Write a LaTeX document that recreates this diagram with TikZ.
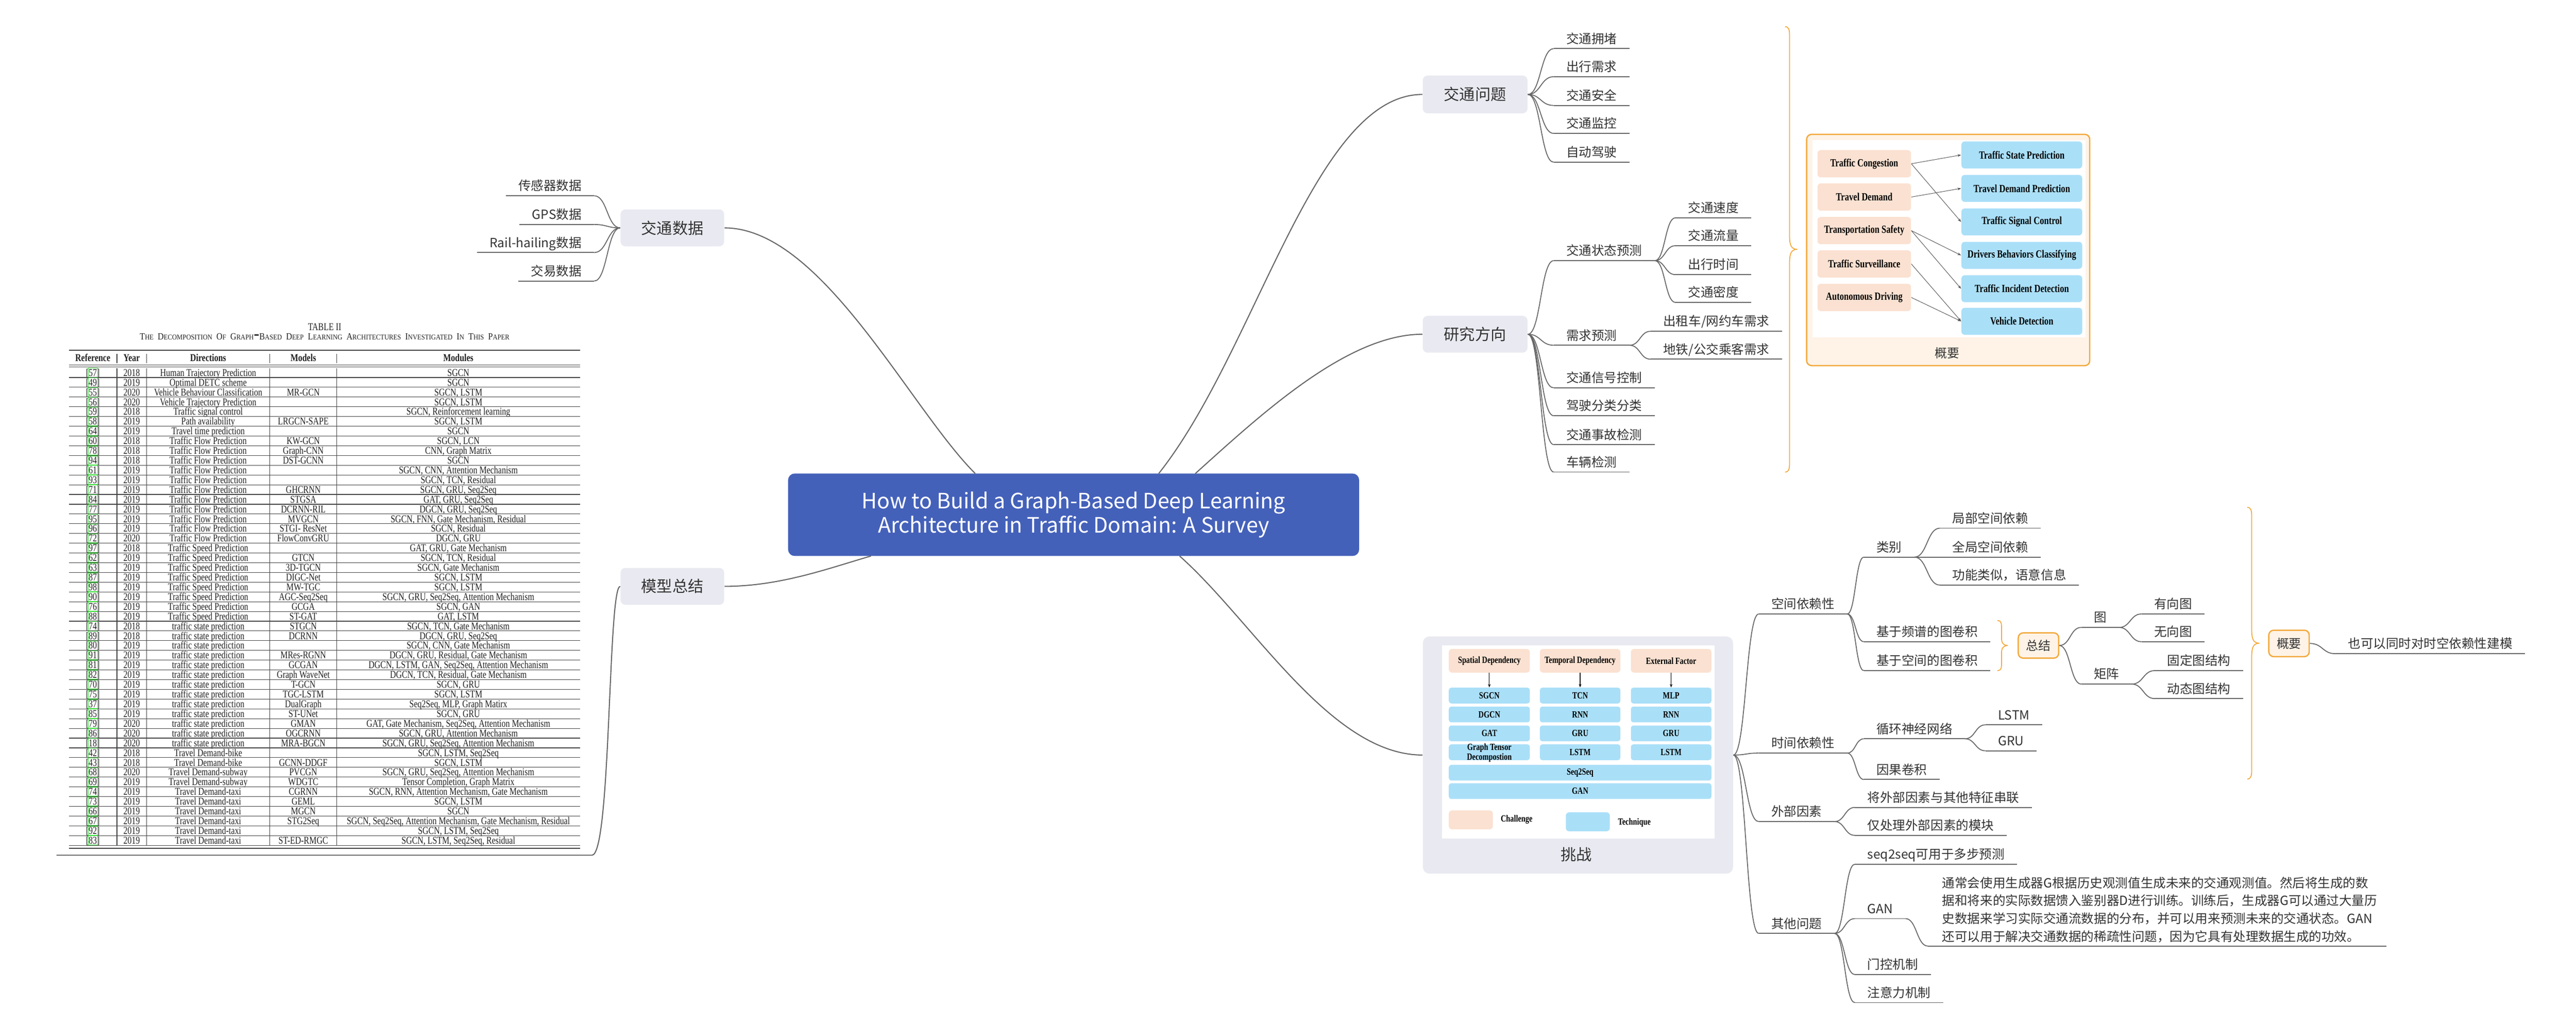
\documentclass[tikz,border=0pt]{standalone}
\usepackage{fontspec}
\usepackage{graphicx}
\setmainfont{Liberation Serif}
\newfontfamily\cjk{Noto Sans CJK SC}
\usetikzlibrary{calc,arrows.meta}
\definecolor{lnc}{HTML}{666666}
\definecolor{txc}{HTML}{333333}
\definecolor{boxg}{HTML}{E9EAF1}
\definecolor{ttl}{HTML}{4461BA}
\definecolor{orn}{HTML}{F3A93C}
\definecolor{crm}{HTML}{FEF3E6}
\definecolor{pchc}{HTML}{FBE1D1}
\definecolor{bluc}{HTML}{AADFF8}
\definecolor{arrc}{HTML}{555555}
\definecolor{tblc}{HTML}{222222}
\definecolor{gbox}{HTML}{33DD33}
\newcommand\kidfont{\cjk\fontsize{7.7}{9}\selectfont}
\newcommand\topfont{\cjk\fontsize{9.5}{11}\selectfont}
\newcommand\vs[1]{\scalebox{1}[1.28]{#1}}
\newcommand\smc[2]{{\fontsize{5}{5}\selectfont#1}{\fontsize{3.9}{4}\selectfont#2}}
\tikzset{
  conn/.style={draw=lnc, line width=0.55pt},
  mconn/.style={draw=lnc, line width=0.65pt},
  ulx/.style={draw=lnc, line width=0.6pt},
  kid/.style={inner sep=0pt, font=\kidfont, text=txc},
  topbox/.style={fill=boxg, rounded corners=3pt, inner sep=0pt, font=\topfont, text=txc},
  brc/.style={draw=orn, line width=0.55pt},
  sumbox/.style={fill=crm, draw=orn, line width=0.8pt, rounded corners=3pt, inner sep=0pt, font=\cjk\fontsize{7.5}{9}\selectfont, text=txc},
  pch/.style={fill=pchc, rounded corners=2pt, inner sep=0pt, font=\bfseries\fontsize{5.2}{6}\selectfont, text=black},
  blu/.style={fill=bluc, rounded corners=2pt, inner sep=0pt, font=\bfseries\fontsize{5.2}{6}\selectfont, text=black},
  arw/.style={draw=arrc, line width=0.3pt, -{Stealth[length=2.2pt,width=1.6pt]}},
  arwk/.style={draw=black, line width=0.35pt, -{Stealth[length=2pt,width=1.6pt]}},
  chb/.style={fill=pchc, rounded corners=2pt, inner sep=0pt, minimum height=14.4pt, font=\bfseries\fontsize{4.5}{5}\selectfont, text=black},
  teb/.style={fill=bluc, rounded corners=1.5pt, inner sep=0pt, minimum height=9.6pt, font=\bfseries\fontsize{4.5}{4.8}\selectfont, text=black, align=center},
  tebtxt/.style={inner sep=0pt, anchor=base, font=\bfseries\fontsize{4.5}{4.8}\selectfont, text=black},
  tcell/.style={inner sep=0pt, anchor=base, font=\fontsize{5}{6}\selectfont, text=tblc},
  thd/.style={inner sep=0pt, anchor=base, font=\bfseries\fontsize{5}{6}\selectfont, text=tblc},
  trule/.style={draw=tblc!85, line width=0.35pt},
  grnbox/.style={draw=gbox, line width=0.3pt},
}
\newcommand\kid[4]{%
  \coordinate (#1s) at (#2,#3);
  \node[kid, anchor=base west] (#1) at (#2+7.5,#3-3.2) {#4};
  \path (#1s -| #1.east) ++(7.5,0) coordinate (#1e);
  \draw[ulx] (#1s) -- (#1e);}
\newcommand\kidL[4]{%
  \coordinate (#1e) at (#2,#3);
  \node[kid, anchor=base east] (#1) at (#2-7.5,#3-3.2) {#4};
  \path (#1e -| #1.west) ++(-7.5,0) coordinate (#1s);
  \draw[ulx] (#1s) -- (#1e);}
\newcommand\lk[2]{\draw[conn] let \p1=(#1), \p2=(#2) in (\p1) .. controls ({(\x1+\x2)/2},\y1) and ({(\x1+\x2)/2},\y2) .. (\p2);}
\begin{document}
\begin{tikzpicture}[x=1pt,y=-1pt]
\fill[white] (0,0) rectangle (1568,624);
\useasboundingbox (0,0) rectangle (1568,624);

% ---------- central and top-level ----------
\node[fill=ttl, rounded corners=4pt, minimum width=347.6pt, minimum height=50.2pt, inner sep=0pt, text=white, align=center, font=\cjk\fontsize{12.9}{15}\selectfont] (ctr) at (653.5,313.4) {How to Build a Graph-Based Deep Learning\\Architecture in Traffic Domain: A Survey};
\node[topbox, minimum width=63.8pt, minimum height=23pt] (jtwt) at (897.9,57.5) {交通问题};
\node[topbox, minimum width=63.8pt, minimum height=22.4pt] (yjfx) at (897.9,203.5) {研究方向};
\node[topbox, minimum width=63.1pt, minimum height=22.5pt] (jtsj) at (409.25,138.75) {交通数据};
\node[topbox, minimum width=63.1pt, minimum height=22.5pt] (mxzj) at (409.25,357) {模型总结};
\node[fill=boxg, rounded corners=4pt, minimum width=188.8pt, minimum height=144.4pt, inner sep=0pt] (tz) at (960.5,459.7) {};

\coordinate (cA) at (593.6,288.3);
\coordinate (cB) at (705.3,288.3);
\coordinate (cC) at (727.6,288.3);
\coordinate (cD) at (530.2,338.5);
\coordinate (cE) at (718,338.5);
\draw[mconn] (jtsj.east) .. controls (500,138.75) and (553.6,248.3) .. (cA);
\draw[mconn] (cB) .. controls (765,213) and (800,57.5) .. (jtwt.west);
\draw[mconn] (cC) .. controls (767.6,252.3) and (820,203.5) .. (yjfx.west);
\draw[mconn] (cD) .. controls (505,345.8) and (475,357) .. (mxzj.east);
\draw[mconn] (cE) .. controls (763,378.5) and (810,459.7) .. (tz.west);

% ---------- 交通问题 ----------
\kid{w1}{945.7}{29.6}{交通拥堵}
\kid{w2}{945.7}{46.7}{出行需求}
\kid{w3}{945.7}{64.2}{交通安全}
\kid{w4}{945.7}{81.25}{交通监控}
\kid{w5}{945.7}{98.75}{自动驾驶}
\lk{jtwt.east}{w1s}
\lk{jtwt.east}{w2s}
\lk{jtwt.east}{w3s}
\lk{jtwt.east}{w4s}
\lk{jtwt.east}{w5s}

% ---------- 研究方向 ----------
\kid{ztyc}{945.7}{158.7}{交通状态预测}
\kid{xqyc}{945.7}{210.2}{需求预测}
\kid{fa}{945.7}{236.1}{交通信号控制}
\kid{fb}{945.7}{253.1}{驾驶分类分类}
\kid{fc}{945.7}{270.7}{交通事故检测}
\kid{fd}{945.7}{287.4}{车辆检测}
\lk{yjfx.east}{ztycs}
\lk{yjfx.east}{xqycs}
\lk{yjfx.east}{fas}
\lk{yjfx.east}{fbs}
\lk{yjfx.east}{fcs}
\lk{yjfx.east}{fds}
\kid{tsa}{1019.8}{132.6}{交通速度}
\kid{tsb}{1019.8}{149.6}{交通流量}
\kid{tsc}{1019.8}{167.2}{出行时间}
\kid{tsd}{1019.8}{184.1}{交通密度}
\lk{ztyce}{tsas}
\lk{ztyce}{tsbs}
\lk{ztyce}{tscs}
\lk{ztyce}{tsds}
\kid{xqa}{1004.7}{201.7}{出租车/网约车需求}
\kid{xqb}{1004.7}{218.7}{地铁/公交乘客需求}
\lk{xqyce}{xqas}
\lk{xqyce}{xqbs}

% big brace (top)
\draw[brc] (1086.6,16.25) .. controls (1088.8,16.25) and (1089.3,18) .. (1089.3,22) -- (1089.3,144) .. controls (1089.3,149.5) and (1090.5,151.8) .. (1094,151.8) .. controls (1090.5,151.8) and (1089.3,154.1) .. (1089.3,159.6) -- (1089.3,281.6) .. controls (1089.3,285.6) and (1088.8,287.4) .. (1086.6,287.4);

% ---------- 概要 panel (top) ----------
\node[fill=crm, draw=orn, line width=0.8pt, rounded corners=3pt, minimum width=172.3pt, minimum height=140.8pt, inner sep=0pt] (gy1) at (1185.85,152.2) {};
\fill[white] (1103.3,85.2) rectangle (1269.3,205.3);
\node[pch, minimum width=56.9pt, minimum height=16.6pt] (p1) at (1134.75,99.7) {\vs{Traffic Congestion}};
\node[pch, minimum width=56.9pt, minimum height=16.6pt] (p2) at (1134.75,119.95) {\vs{Travel Demand}};
\node[pch, minimum width=56.9pt, minimum height=16.6pt] (p3) at (1134.75,140.4) {\vs{Transportation Safety}};
\node[pch, minimum width=56.9pt, minimum height=16.6pt] (p4) at (1134.75,160.7) {\vs{Traffic Surveillance}};
\node[pch, minimum width=56.9pt, minimum height=16.6pt] (p5) at (1134.75,181.1) {\vs{Autonomous Driving}};
\node[blu, minimum width=73.5pt, minimum height=16.4pt] (b1) at (1230.65,94.35) {\vs{Traffic State Prediction}};
\node[blu, minimum width=73.5pt, minimum height=16.4pt] (b2) at (1230.65,114.7) {\vs{Travel Demand Prediction}};
\node[blu, minimum width=73.5pt, minimum height=16.4pt] (b3) at (1230.65,135.1) {\vs{Traffic Signal Control}};
\node[blu, minimum width=73.5pt, minimum height=16.4pt] (b4) at (1230.65,155.45) {\vs{Drivers Behaviors Classifying}};
\node[blu, minimum width=73.5pt, minimum height=16.4pt] (b5) at (1230.65,175.8) {\vs{Traffic Incident Detection}};
\node[blu, minimum width=73.5pt, minimum height=16.4pt] (b6) at (1230.65,195.6) {\vs{Vehicle Detection}};
\draw[arw] (p1.east) -- (b1.west);
\draw[arw] (p1.east) -- (b3.west);
\draw[arw] (p2.east) -- (b2.west);
\draw[arw] (p3.east) -- (b4.west);
\draw[arw] (p3.east) -- (b5.west);
\draw[arw] (p4.east) -- (b6.west);
\draw[arw] (p5.east) -- (b6.west);
\node[font=\cjk\fontsize{7.5}{9}\selectfont, text=txc, inner sep=0pt] (gy1t) at (1185.2,215) {概要};

% ---------- 交通数据 ----------
\kidL{dsa}{361.7}{119.2}{传感器数据}
\kidL{dsb}{361.7}{136.7}{GPS数据}
\kidL{dsc}{361.7}{153.75}{Rail-hailing数据}
\kidL{dsd}{361.7}{171.1}{交易数据}
\lk{jtsj.west}{dsae}
\lk{jtsj.west}{dsbe}
\lk{jtsj.west}{dsce}
\lk{jtsj.west}{dsde}

% ---------- 模型总结: table ----------
\coordinate (tblR) at (360.3,520.7);
\coordinate (tblL) at (34.4,520.7);
\draw[mconn] (mxzj.west) .. controls (370,357) and (372,520.7) .. (tblR) -- (tblL);
\node[inner sep=0pt, anchor=base, font=\fontsize{5}{6}\selectfont, text=tblc] (tcap1) at (197.6,201.3) {\vs{TABLE II}};
\node[inner sep=0pt, anchor=base, text=tblc] (tcap2) at (197.6,206.9) {\resizebox{225pt}{3.8pt}{\smc{T}{HE} \smc{D}{ECOMPOSITION} \smc{O}{F} \smc{G}{RAPH}-\smc{B}{ASED} \smc{D}{EEP} \smc{L}{EARNING} \smc{A}{RCHITECTURES} \smc{I}{NVESTIGATED} \smc{I}{N} \smc{T}{HIS} \smc{P}{APER}}};
\draw[trule, line width=0.5pt] (41.9,213.3) -- (353,213.3);
\draw[trule] (41.9,222.3) -- (353,222.3);
\draw[trule] (41.9,223.4) -- (353,223.4);
\node[thd] (th1) at (56.5,220) {\vs{Reference}};
\node[thd] (th2) at (80.15,220) {\vs{Year}};
\node[thd] (th3) at (126.7,220) {\vs{Directions}};
\node[thd] (th4) at (184.6,220) {\vs{Models}};
\node[thd] (th5) at (279,220) {\vs{Modules}};
\foreach \vx in {71.2,89.1,164.3,205}{
  \draw[trule] (\vx,215.5) -- (\vx,221.1);
  \draw[trule] (\vx,224.3) -- (\vx,514.8);
}
\foreach \rf/\yr/\dr/\md/\mo [count=\i] in {
57/2018/Human Trajectory Prediction//SGCN,
49/2019/Optimal DETC scheme//SGCN,
55/2020/Vehicle Behaviour Classification/MR-GCN/{SGCN, LSTM},
56/2020/Vehicle Trajectory Prediction//{SGCN, LSTM},
59/2018/Traffic signal control//{SGCN, Reinforcement learning},
58/2019/Path availability/LRGCN-SAPE/{SGCN, LSTM},
64/2019/Travel time prediction//SGCN,
60/2018/Traffic Flow Prediction/KW-GCN/{SGCN, LCN},
78/2018/Traffic Flow Prediction/Graph-CNN/{CNN, Graph Matrix},
94/2018/Traffic Flow Prediction/DST-GCNN/SGCN,
61/2019/Traffic Flow Prediction//{SGCN, CNN, Attention Mechanism},
93/2019/Traffic Flow Prediction//{SGCN, TCN, Residual},
71/2019/Traffic Flow Prediction/GHCRNN/{SGCN, GRU, Seq2Seq},
84/2019/Traffic Flow Prediction/STGSA/{GAT, GRU, Seq2Seq},
77/2019/Traffic Flow Prediction/DCRNN-RIL/{DGCN, GRU, Seq2Seq},
95/2019/Traffic Flow Prediction/MVGCN/{SGCN, FNN, Gate Mechanism, Residual},
96/2019/Traffic Flow Prediction/STGI- ResNet/{SGCN, Residual},
72/2020/Traffic Flow Prediction/FlowConvGRU/{DGCN, GRU},
97/2018/Traffic Speed Prediction//{GAT, GRU, Gate Mechanism},
62/2019/Traffic Speed Prediction/GTCN/{SGCN, TCN, Residual},
63/2019/Traffic Speed Prediction/3D-TGCN/{SGCN, Gate Mechanism},
87/2019/Traffic Speed Prediction/DIGC-Net/{SGCN, LSTM},
98/2019/Traffic Speed Prediction/MW-TGC/{SGCN, LSTM},
90/2019/Traffic Speed Prediction/AGC-Seq2Seq/{SGCN, GRU, Seq2Seq, Attention Mechanism},
76/2019/Traffic Speed Prediction/GCGA/{SGCN, GAN},
88/2019/Traffic Speed Prediction/ST-GAT/{GAT, LSTM},
74/2018/traffic state prediction/STGCN/{SGCN, TCN, Gate Mechanism},
89/2018/traffic state prediction/DCRNN/{DGCN, GRU, Seq2Seq},
80/2019/traffic state prediction//{SGCN, CNN, Gate Mechanism},
91/2019/traffic state prediction/MRes-RGNN/{DGCN, GRU, Residual, Gate Mechanism},
81/2019/traffic state prediction/GCGAN/{DGCN, LSTM, GAN, Seq2Seq, Attention Mechanism},
82/2019/traffic state prediction/Graph WaveNet/{DGCN, TCN, Residual, Gate Mechanism},
70/2019/traffic state prediction/T-GCN/{SGCN, GRU},
75/2019/traffic state prediction/TGC-LSTM/{SGCN, LSTM},
37/2019/traffic state prediction/DualGraph/{Seq2Seq, MLP, Graph Matirx},
85/2019/traffic state prediction/ST-UNet/{SGCN, GRU},
79/2020/traffic state prediction/GMAN/{GAT, Gate Mechanism, Seq2Seq, Attention Mechanism},
86/2020/traffic state prediction/OGCRNN/{SGCN, GRU, Attention Mechanism},
18/2020/traffic state prediction/MRA-BGCN/{SGCN, GRU, Seq2Seq, Attention Mechanism},
42/2018/Travel Demand-bike//{SGCN, LSTM, Seq2Seq},
43/2018/Travel Demand-bike/GCNN-DDGF/{SGCN, LSTM},
68/2020/Travel Demand-subway/PVCGN/{SGCN, GRU, Seq2Seq, Attention Mechanism},
69/2019/Travel Demand-subway/WDGTC/{Tensor Completion, Graph Matrix},
74/2019/Travel Demand-taxi/CGRNN/{SGCN, RNN, Attention Mechanism, Gate Mechanism},
73/2019/Travel Demand-taxi/GEML/{SGCN, LSTM},
66/2019/Travel Demand-taxi/MGCN/SGCN,
67/2019/Travel Demand-taxi/STG2Seq/{SGCN, Seq2Seq, Attention Mechanism, Gate Mechanism, Residual},
92/2019/Travel Demand-taxi//{SGCN, LSTM, Seq2Seq},
83/2019/Travel Demand-taxi/ST-ED-RMGC/{SGCN, LSTM, Seq2Seq, Residual}%
}{
  \pgfmathsetmacro\yy{226.9+(\i-1)*5.933}
  \node[tcell] (tr\i) at (56.5,\yy+2.1) {\vs{[\rf]}};
  \node[tcell] (ty\i) at (80.15,\yy+2.1) {\vs{\yr}};
  \node[tcell] (td\i) at (126.7,\yy+2.1) {\vs{\dr}};
  \node[tcell] (tm\i) at (184.6,\yy+2.1) {\vs{\md}};
  \node[tcell] (to\i) at (279,\yy+2.1) {\vs{\mo}};
  \draw[grnbox] (53.7,\yy-2.75) rectangle (59.5,\yy+2.75);
  \draw[trule] (41.9,\yy+2.97) -- (353,\yy+2.97);
}
\draw[trule, line width=0.5pt] (41.9,516.5) -- (353,516.5);

% ---------- 挑战 panel ----------
\fill[white] (877.9,392.8) rectangle (1043.7,510.4);
\node[chb, minimum width=49.3pt] (c1) at (906.55,402.3) {\vs{Spatial Dependency}};
\node[chb, minimum width=49pt] (c2) at (961.8,402.3) {\vs{Temporal Dependency}};
\node[chb, minimum width=49pt] (c3) at (1017.2,402.3) {\vs{External Factor}};
\node[teb, minimum width=49.3pt] (t11) at (906.55,423.5) {\vs{SGCN}};
\node[teb, minimum width=49.3pt] (t12) at (906.55,435) {\vs{DGCN}};
\node[teb, minimum width=49.3pt] (t13) at (906.55,446.5) {\vs{GAT}};
\node[teb, minimum width=49.3pt] (t14) at (906.55,458) {};
\node[tebtxt] (t14a) at (906.55,456.9) {\vs{Graph Tensor}};
\node[tebtxt] (t14b) at (906.55,462.8) {\vs{Decompostion}};
\node[teb, minimum width=49pt] (t21) at (961.8,423.5) {\vs{TCN}};
\node[teb, minimum width=49pt] (t22) at (961.8,435) {\vs{RNN}};
\node[teb, minimum width=49pt] (t23) at (961.8,446.5) {\vs{GRU}};
\node[teb, minimum width=49pt] (t24) at (961.8,458) {\vs{LSTM}};
\node[teb, minimum width=49pt] (t31) at (1017.2,423.5) {\vs{MLP}};
\node[teb, minimum width=49pt] (t32) at (1017.2,435) {\vs{RNN}};
\node[teb, minimum width=49pt] (t33) at (1017.2,446.5) {\vs{GRU}};
\node[teb, minimum width=49pt] (t34) at (1017.2,458) {\vs{LSTM}};
\node[teb, minimum width=159.8pt] (seq) at (961.8,470.45) {\vs{Seq2Seq}};
\node[teb, minimum width=159.8pt] (gan) at (961.8,481.65) {\vs{GAN}};
\draw[arwk] (c1.south) -- (t11.north);
\draw[arwk] (c2.south) -- (t21.north);
\draw[arwk] (c3.south) -- (t31.north);
\node[fill=pchc, rounded corners=2pt, minimum width=26.8pt, minimum height=11.5pt, inner sep=0pt] (lg1) at (895.3,499.15) {};
\node[inner sep=0pt, font=\bfseries\fontsize{4.5}{5}\selectfont] (lgt1) at (923.15,498.9) {\vs{Challenge}};
\node[fill=bluc, rounded corners=2pt, minimum width=26.8pt, minimum height=11.5pt, inner sep=0pt] (lg2) at (966.5,500.35) {};
\node[inner sep=0pt, font=\bfseries\fontsize{4.5}{5}\selectfont] (lgt2) at (994.8,500.8) {\vs{Technique}};
\node[inner sep=0pt, font=\topfont, text=txc] (tzt) at (959.5,520.4) {挑战};

% ---------- 挑战 children ----------
\kid{kj}{1070.5}{373.8}{空间依赖性}
\kid{sj}{1070.5}{458.5}{时间依赖性}
\kid{wb}{1070.5}{500.2}{外部因素}
\kid{qt}{1070.5}{568.3}{其他问题}
\lk{tz.east}{kjs}
\lk{tz.east}{sjs}
\lk{tz.east}{wbs}
\lk{tz.east}{qts}

\kid{lb}{1134.5}{339.2}{类别}
\kid{pp}{1134.5}{390.7}{基于频谱的图卷积}
\kid{kk}{1134.5}{408.3}{基于空间的图卷积}
\lk{kje}{lbs}
\lk{kje}{pps}
\lk{kje}{kks}
\kid{jb}{1180.7}{321.6}{局部空间依赖}
\kid{qj}{1180.7}{339.2}{全局空间依赖}
\kid{gn}{1180.7}{356.2}{功能类似，语意信息}
\lk{lbe}{jbs}
\lk{lbe}{qjs}
\lk{lbe}{gns}

\draw[brc] (1215.8,377.8) .. controls (1217.8,377.8) and (1218.3,379) .. (1218.3,381.5) -- (1218.3,388.5) .. controls (1218.3,391.5) and (1219.5,393) .. (1222.2,393) .. controls (1219.5,393) and (1218.3,394.5) .. (1218.3,397.5) -- (1218.3,404.6) .. controls (1218.3,407.1) and (1217.8,408.3) .. (1215.8,408.3);
\node[sumbox, minimum width=24.6pt, minimum height=15.4pt] (sumA) at (1240.8,393) {总结};
\kid{tu}{1266.8}{382}{图}
\kid{jz}{1266.8}{416.5}{矩阵}
\lk{sumA.east}{tus}
\lk{sumA.east}{jzs}
\kid{yx}{1303.5}{373.8}{有向图}
\kid{wx}{1303.5}{390.7}{无向图}
\lk{tue}{yxs}
\lk{tue}{wxs}
\kid{gd}{1311.5}{408.3}{固定图结构}
\kid{dt}{1311.5}{425.3}{动态图结构}
\lk{jze}{gds}
\lk{jze}{dts}

\draw[brc] (1367.9,308.9) .. controls (1370.1,308.9) and (1370.6,310.7) .. (1370.6,314.7) -- (1370.6,384) .. controls (1370.6,389.3) and (1371.8,391.6) .. (1375.3,391.6) .. controls (1371.8,391.6) and (1370.6,393.9) .. (1370.6,399.2) -- (1370.6,468.5) .. controls (1370.6,472.5) and (1370.1,474.3) .. (1367.9,474.3);
\node[sumbox, minimum width=24.6pt, minimum height=16.1pt] (gyB) at (1393.3,391.75) {概要};
\kid{ye}{1421.5}{398}{也可以同时对时空依赖性建模}
\lk{gyB.east}{yes}

\kid{xh}{1134.5}{449.8}{循环神经网络}
\kid{yg}{1134.5}{474.6}{因果卷积}
\lk{sje}{xhs}
\lk{sje}{ygs}
\kid{ls}{1208.5}{441.3}{LSTM}
\kid{gr}{1208.5}{457.1}{GRU}
\lk{xhe}{lss}
\lk{xhe}{grs}

\kid{cl}{1129}{491.6}{将外部因素与其他特征串联}
\kid{jc}{1129}{508.6}{仅处理外部因素的模块}
\lk{wbe}{cls}
\lk{wbe}{jcs}

\kid{sq}{1129}{526.2}{seq2seq可用于多步预测}
\kid{ga}{1129}{559.3}{GAN}
\kid{mk}{1129}{593.3}{门控机制}
\kid{zy}{1129}{610.4}{注意力机制}
\lk{qte}{sqs}
\lk{qte}{gas}
\lk{qte}{mks}
\lk{qte}{zys}

\coordinate (gps) at (1173.5,576);
\coordinate (gpe) at (1452.7,576);
\draw[ulx] (gps) -- (gpe);
\lk{gae}{gps}
\node[kid, anchor=base west] (gp1) at (1182,540.4) {通常会使用生成器G根据历史观测值生成未来的交通观测值。然后将生成的数};
\node[kid, anchor=base west] (gp2) at (1182,551.3) {据和将来的实际数据馈入鉴别器D进行训练。训练后，生成器G可以通过大量历};
\node[kid, anchor=base west] (gp3) at (1182,562.2) {史数据来学习实际交通流数据的分布，并可以用来预测未来的交通状态。GAN};
\node[kid, anchor=base west] (gp4) at (1182,573.1) {还可以用于解决交通数据的稀疏性问题，因为它具有处理数据生成的功效。};
\end{tikzpicture}
\end{document}
